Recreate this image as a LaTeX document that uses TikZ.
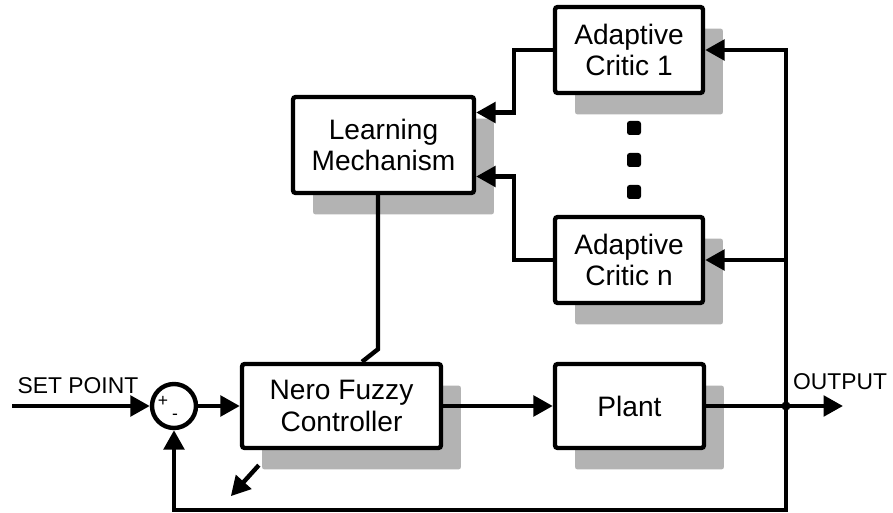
\documentclass[tikz,border=0pt]{standalone}
\usepackage{fontspec}
\setmainfont{Liberation Sans}
\usetikzlibrary{arrows.meta,shadows}

\definecolor{shadowgray}{HTML}{B3B3B3}

\tikzset{
	block/.style={draw, line width=2.5pt, fill=white, rounded corners=1.5pt,
		align=center, inner sep=0pt, font=\fontsize{16}{18}\selectfont,
		drop shadow={shadow xshift=0.4cm, shadow yshift=-0.43cm, fill=shadowgray, opacity=1}},
	sumnode/.style={draw, circle, line width=2.5pt, minimum size=0.88cm, inner sep=0pt},
	dotbox/.style={fill=black, rounded corners=1.5pt, minimum size=0.28cm, inner sep=0pt},
	wire/.style={line width=2.5pt},
	arr/.style={wire, -{Triangle[length=11pt, width=11.5pt]}},
	lbl/.style={font=\fontsize{13}{14}\selectfont}
}

\begin{document}
\begin{tikzpicture}[x=0.02cm, y=-0.02cm]
		\useasboundingbox (0,0) rectangle (893,513);

		% blocks
		\node[block, minimum width=3.98cm, minimum height=1.68cm] (nfc) at (341.5,406) {Nero Fuzzy\\Controller};
		\node[block, minimum width=2.98cm, minimum height=1.68cm] (plant) at (629.5,406) {Plant};
		\node[block, minimum width=3.62cm, minimum height=1.92cm] (lm) at (383.5,145) {Learning\\Mechanism};
		\node[block, minimum width=2.96cm, minimum height=1.72cm] (ac1) at (629,50) {Adaptive\\Critic 1};
		\node[block, minimum width=2.96cm, minimum height=1.72cm] (acn) at (629,260) {Adaptive\\Critic n};

		% dots between the critics
		\foreach \i/\y in {1/128, 2/160, 3/192}
			\node[dotbox] (d\i) at (634,\y) {};

		% summing junction
		\node[sumnode] (sum) at (174,406) {};
		\node[font=\fontsize{10}{10}\selectfont] (plus) at (163,401) {+};
		\node[font=\fontsize{10}{10}\selectfont] (minus) at (175,417) {-};

		\coordinate (sp) at (12,406);
		\coordinate (jn) at (786,406);
		\coordinate (out) at (843,406);
		\coordinate (fb) at (786,510);

		\node[lbl] (splabel) at (78,386) {SET POINT};
		\node[lbl] (outlabel) at (840,382) {OUTPUT};

		% forward path
		\draw[arr] (sp) -- (sum);
		\draw[arr] (sum) -- (nfc);
		\draw[arr] (nfc) -- (plant);
		\draw[arr] (plant) -- (out);

		% feedback and critics
		\draw[arr] (jn) -- (fb) -| (sum.south);
		\draw[arr] (jn) |- (ac1.east);
		\draw[arr] (jn) |- (acn.east);
		\fill (jn) circle (2.6pt);

		\draw[arr] (ac1.west) -- ++(-39,0) |- ([yshift=0.65cm]lm.east);
		\draw[arr] (acn.west) -- ++(-39,0) |- ([yshift=-0.63cm]lm.east);

		% learning to controller
		\draw[wire] ([xshift=-0.11cm]lm.south) -- ++(0,154) -- ([xshift=0.41cm]nfc.north);
		\draw[arr] ([shift={(0.38cm,-0.3cm)}]nfc.south west) -- ++(-28,31);
	\end{tikzpicture}
\end{document}
